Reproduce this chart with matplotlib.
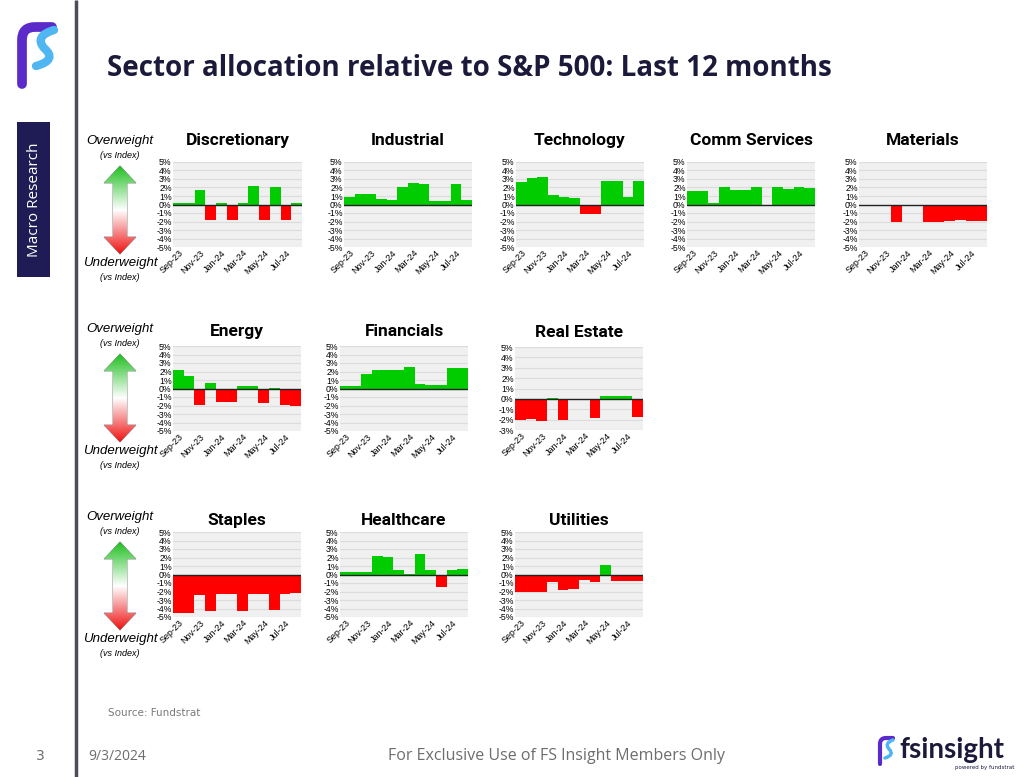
import numpy as np
import matplotlib
matplotlib.use('Agg')
import matplotlib.pyplot as plt
from matplotlib.path import Path
from matplotlib.patches import PathPatch, Rectangle
from matplotlib.colors import LinearSegmentedColormap

# Months (Sep-23 .. Aug-24), labels shown every other month
months = ['Sep-23', 'Oct-23', 'Nov-23', 'Dec-23', 'Jan-24', 'Feb-24',
          'Mar-24', 'Apr-24', 'May-24', 'Jun-24', 'Jul-24', 'Aug-24']

# Relative weight vs S&P 500 (%)
discretionary = [0.2, 0.2, 1.7, -1.8, 0.2, -1.8, 0.2, 2.2, -1.8, 2.1, -1.8, 0.2]
industrial = [0.9, 1.25, 1.2, 0.7, 0.5, 2.1, 2.5, 2.4, 0.4, 0.4, 2.4, 0.5]
technology = [2.7, 3.1, 3.2, 1.1, 0.9, 0.8, -1.1, -1.1, 2.8, 2.8, 0.9, 2.8]
comm_services = [1.6, 1.6, 0.2, 2.0, 1.7, 1.7, 2.0, 0.0, 2.0, 1.85, 2.0, 1.95]
materials = [0.0, 0.0, 0.0, -2.0, 0.0, 0.0, -2.0, -2.0, -1.9, -1.8, -1.9, -1.9]
energy = [2.2, 1.5, -1.9, 0.6, -1.6, -1.6, 0.35, 0.35, -1.7, 0.1, -1.9, -2.0]
financials = [0.25, 0.25, 1.7, 2.2, 2.15, 2.15, 2.5, 0.5, 0.4, 0.4, 2.4, 2.4]
real_estate = [-2.0, -1.95, -2.1, 0.05, -2.0, 0.0, 0.0, -1.8, 0.3, 0.3, 0.3, -1.7]
staples = [-4.5, -4.5, -2.4, -4.3, -2.3, -2.3, -4.3, -2.3, -2.3, -4.2, -2.3, -2.2]
healthcare = [0.3, 0.3, 0.3, 2.2, 2.1, 0.5, 0.1, 2.4, 0.5, -1.5, 0.5, 0.6]
utilities = [-2.0, -2.05, -2.0, -0.9, -1.8, -1.7, -0.7, -0.85, 1.1, -0.8, -0.8, -0.8]

GREEN = '#00cc00'
RED = '#ff0000'
NAVY = '#1c1a3b'
W, H = 1024, 777

fig = plt.figure(figsize=(W / 100, H / 100), dpi=100)
fig.patch.set_facecolor('white')

# overlay axes in pixel coordinates for all decorations
ov = fig.add_axes([0, 0, 1, 1])
ov.set_xlim(0, W)
ov.set_ylim(H, 0)
ov.axis('off')

arial = ['Liberation Sans', 'DejaVu Sans']

# left band: divider line, logo, "Macro Research" box
ov.plot([76, 76], [0, H], color='#4b4b5c', lw=2.5, solid_capstyle='butt')
ov.add_patch(Rectangle((17, 122), 33, 155, facecolor='#1f1c55', edgecolor='none'))
ov.text(34, 200, 'Macro Research', rotation=90, color='white', fontsize=11,
        family='Open Sans', ha='center', va='center')

# rough FS logo
logo = Path([(22, 84), (22, 40), (22, 27), (35, 27), (52, 27)],
            [Path.MOVETO, Path.LINETO, Path.CURVE3, Path.CURVE3, Path.LINETO])
ov.add_patch(PathPatch(logo, facecolor='none', edgecolor='#5b2bc9', lw=7, capstyle='round'))
s_curve = Path([(54, 30), (34, 36), (44, 48), (58, 60), (36, 66)],
               [Path.MOVETO, Path.CURVE3, Path.CURVE3, Path.CURVE3, Path.CURVE3])
ov.add_patch(PathPatch(s_curve, facecolor='none', edgecolor='#4fb6f2', lw=6, capstyle='round'))

ov.text(107, 68, 'Sector allocation relative to S&P 500: Last 12 months',
        fontsize=20, fontweight='bold', color=NAVY, family='Open Sans', va='center')

# over/underweight gradient arrows
arrow_cmap = LinearSegmentedColormap.from_list('ow', ['#1fbf1f', '#ffffff', '#ee1111'])
grad = np.linspace(0, 1, 256).reshape(-1, 1)
for dy in [0, 188, 376]:
    ov.text(120, 141 + dy, 'Overweight', style='italic', fontsize=9.5,
            family=arial, ha='center', va='center')
    ov.text(120, 156 + dy, '(vs Index)', style='italic', fontsize=6.5,
            family=arial, ha='center', va='center')
    ov.text(120, 263 + dy, 'Underweight', style='italic', fontsize=9.5,
            family=arial, ha='center', va='center')
    ov.text(120, 278 + dy, '(vs Index)', style='italic', fontsize=6.5,
            family=arial, ha='center', va='center')
    top, bot = 166 + dy, 254 + dy
    pts = [(120, top), (136, top + 17), (127, top + 17), (127, bot - 17),
           (136, bot - 17), (120, bot), (104, bot - 17), (113, bot - 17),
           (113, top + 17), (104, top + 17), (120, top)]
    arrow = PathPatch(Path(pts, closed=True), facecolor='none',
                      edgecolor='#777777', lw=0.6, transform=ov.transData)
    ov.add_patch(arrow)
    im = ov.imshow(grad, cmap=arrow_cmap, aspect='auto',
                   extent=[104, 136, bot, top], zorder=1)
    im.set_clip_path(arrow)
ov.set_xlim(0, W)
ov.set_ylim(H, 0)

# footer
ov.text(108, 713, 'Source: Fundstrat', fontsize=7.5, color='#7a7a7a', va='center')
ov.text(40, 756, '3', fontsize=10, color='#6d6d6d', va='center', ha='center')
ov.text(88, 756, '9/3/2024', fontsize=10, color='#6d6d6d', va='center', family='Open Sans')
ov.text(556, 756, 'For Exclusive Use of FS Insight Members Only', fontsize=11.5,
        color='#6d6d6d', va='center', ha='center', family='Open Sans')
ov.text(899, 750, 'fsinsight', fontsize=20, fontweight='bold', color=NAVY,
        va='center', family='Lato')
ov.text(985, 768, 'powered by fundstrat', fontsize=4, color=NAVY, va='center', ha='center')
small = Path([(880, 764), (880, 744), (880, 738), (886, 738), (893, 738)],
             [Path.MOVETO, Path.LINETO, Path.CURVE3, Path.CURVE3, Path.LINETO])
ov.add_patch(PathPatch(small, facecolor='none', edgecolor='#5b2bc9', lw=3, capstyle='round'))
small_s = Path([(893, 740), (884, 743), (889, 749), (895, 755), (885, 758)],
               [Path.MOVETO, Path.CURVE3, Path.CURVE3, Path.CURVE3, Path.CURVE3])
ov.add_patch(PathPatch(small_s, facecolor='none', edgecolor='#4fb6f2', lw=2.5, capstyle='round'))

# small multiples: (title, values, x0, x1, y0, y1, ymin, title pad)
panels = [
    ('Discretionary', discretionary, 173, 302, 162, 247, -5, 12),
    ('Industrial', industrial, 344, 472, 162, 247, -5, 12),
    ('Technology', technology, 516, 644, 162, 247, -5, 12),
    ('Comm Services', comm_services, 687, 815, 162, 247, -5, 12),
    ('Materials', materials, 859, 987, 162, 247, -5, 12),
    ('Energy', energy, 173, 301, 346, 431, -5, 7),
    ('Financials', financials, 340, 468, 346, 431, -5, 7),
    ('Real Estate', real_estate, 515, 643, 347, 430, -3, 7),
    ('Staples', staples, 173, 301, 532, 617, -5, 5),
    ('Healthcare', healthcare, 340, 468, 532, 617, -5, 5),
    ('Utilities', utilities, 515, 643, 532, 617, -5, 5),
]

x = np.arange(len(months))
for title, vals, x0, x1, y0, y1, ymin, tpad in panels:
    ax = fig.add_axes([x0 / W, 1 - y1 / H, (x1 - x0) / W, (y1 - y0) / H])
    ax.set_facecolor('#f0f0f0')
    ax.set_ylim(ymin, 5)
    ax.set_xlim(-0.5, len(months) - 0.5)
    for g in range(ymin, 6):
        ax.axhline(g, color='#dcdcdc', lw=0.8, zorder=1)
    colors = [GREEN if v >= 0 else RED for v in vals]
    ax.bar(x, vals, width=1.0, color=colors, zorder=2, linewidth=0)
    ax.axhline(0, color='#222222', lw=1.0, zorder=3)
    for s in ax.spines.values():
        s.set_visible(False)
    ax.set_yticks(range(ymin, 6))
    ax.set_yticklabels([f'{t}%' for t in range(ymin, 6)], family=arial, fontsize=6.3)
    ax.set_xticks(x[::2])
    ax.set_xticklabels(months[::2], rotation=45, ha='right', rotation_mode='anchor',
                       family=arial, fontsize=6.5)
    ax.tick_params(length=0, pad=1)
    ax.set_title(title, family='Roboto', fontweight='bold', fontsize=12.5, pad=tpad)

fig.savefig('out.png', dpi=100)
